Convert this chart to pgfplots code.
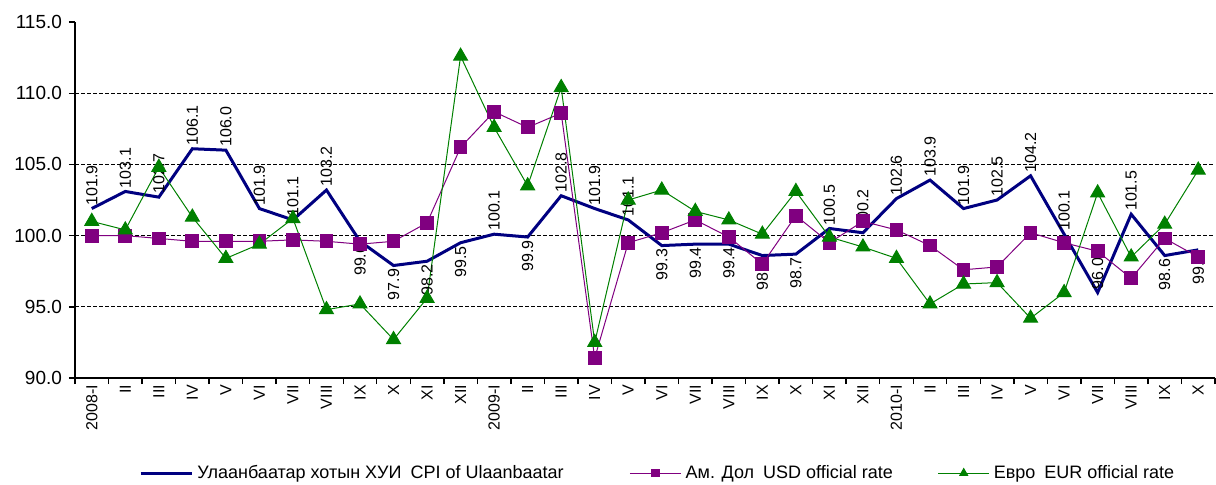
\documentclass[border=0pt]{standalone}
\usepackage{pgfplots}
\pgfplotsset{compat=1.18}
\usepackage{pgfplotstable}
\usepackage{fontspec}
\setmainfont{Liberation Sans}

\definecolor{cpiblue}{HTML}{000080}
\definecolor{usdpurple}{HTML}{800080}
\definecolor{eurgreen}{HTML}{008000}

% x: month index, cpi/usd/eur: index values, up: 1 if the CPI label sits above the point
\pgfplotstableread{
x cpi usd eur up
0 101.9 100.0 101.0 1
1 103.1 100.0 100.4 1
2 102.7 99.8 104.8 1
3 106.1 99.6 101.3 1
4 106.0 99.6 98.4 1
5 101.9 99.6 99.4 1
6 101.1 99.7 101.2 1
7 103.2 99.6 94.8 1
8 99.6 99.4 95.2 0
9 97.9 99.6 92.7 0
10 98.2 100.9 95.6 0
11 99.5 106.2 112.6 0
12 100.1 108.7 107.6 1
13 99.9 107.6 103.5 0
14 102.8 108.6 110.4 1
15 101.9 91.4 92.5 1
16 101.1 99.5 102.5 1
17 99.3 100.2 103.2 0
18 99.4 101.1 101.7 0
19 99.4 99.9 101.1 0
20 98.6 98.0 100.1 0
21 98.7 101.4 103.1 0
22 100.5 99.5 99.9 1
23 100.2 101.0 99.2 1
24 102.6 100.4 98.4 1
25 103.9 99.3 95.2 1
26 101.9 97.6 96.6 1
27 102.5 97.8 96.7 1
28 104.2 100.2 94.2 1
29 100.1 99.5 96.0 1
30 96.0 98.9 103.0 1
31 101.5 97.0 98.5 1
32 98.6 99.8 100.8 0
33 99.0 98.5 104.6 0
}\data

\begin{document}
\begin{tikzpicture}
\path[use as bounding box] (0,0) rectangle (608pt,242pt);
\begin{axis}[
    at={(37.5pt,53pt)}, anchor=south west,
    scale only axis,
    width=570pt, height=178pt,
    xmin=-0.5, xmax=33.5,
    ymin=90, ymax=115,
    axis lines*=left,
    axis line style={black, line width=0.9pt},
    tick align=outside,
    major tick length=3pt,
    tick style={black, line width=0.7pt},
    ytick={90,95,...,115},
    yticklabel style={font=\fontsize{9.5}{11}\selectfont, /pgf/number format/fixed, /pgf/number format/fixed zerofill, /pgf/number format/precision=1},
    /pgf/number format/assume math mode=true,
    extra y ticks={95,100,105,110},
    extra y tick labels={},
    extra y tick style={grid=major, major grid style={black, line width=0.6pt, dash pattern=on 2pt off 1pt}, major tick length=0pt},
    xtick={-0.5,0.5,...,33.5},
    xticklabels={},
    extra x ticks={0,...,33},
    extra x tick labels={2008-I,II,III,IV,V,VI,VII,VIII,IX,X,XI,XII,2009-I,II,III,IV,V,VI,VII,VIII,IX,X,XI,XII,2010-I,II,III,IV,V,VI,VII,VIII,IX,X},
    extra x tick style={major tick length=0pt, tick label style={rotate=90, anchor=east, font=\fontsize{8}{9}\selectfont}},
    clip=false,
    legend columns=3,
    legend style={at={(0.512,-0.267)}, anchor=center, draw=none, fill=none,
        font=\fontsize{9}{10}\selectfont, column sep=0pt},
    legend cell align=left,
    legend image code/.code={\draw[mark repeat=2,mark phase=2,#1, every mark/.append style={scale=0.55}] plot coordinates {(0cm,0cm)(0.45cm,0cm)(0.9cm,0cm)};},
    lbl/.style={draw=none, mark=none, forget plot, nodes near coords, point meta=explicit symbolic,
        every node near coord/.append style={rotate=90, anchor=#1, black, font=\fontsize{8}{9}\selectfont, inner sep=1.5pt}},
]
\addplot[cpiblue, line width=1.5pt, mark=none] table[x=x, y=cpi] {\data};
\addlegendentry{\makebox[214pt][l]{Улаанбаатар хотын ХУИ\enspace CPI of Ulaanbaatar}}
% CPI value labels, above and below the line
\addplot[lbl=west] table[x=x, y expr={\thisrow{up}>0 ? \thisrow{cpi} : nan}, meta=cpi] {\data};
\addplot[lbl=east] table[x=x, y expr={\thisrow{up}>0 ? nan : \thisrow{cpi}}, meta=cpi] {\data};
\addplot[usdpurple, line width=0.5pt, mark=square*, mark size=3.2pt, mark options={solid, fill=usdpurple}]
    table[x=x, y=usd] {\data};
\addlegendentry{\makebox[124pt][l]{Ам. Дол\enspace USD official rate}}
\addplot[eurgreen, line width=0.5pt, mark=triangle*, mark size=4pt, mark options={solid, fill=eurgreen}]
    table[x=x, y=eur] {\data};
\addlegendentry{Евро\enspace EUR official rate}
\end{axis}
\end{tikzpicture}
\end{document}
